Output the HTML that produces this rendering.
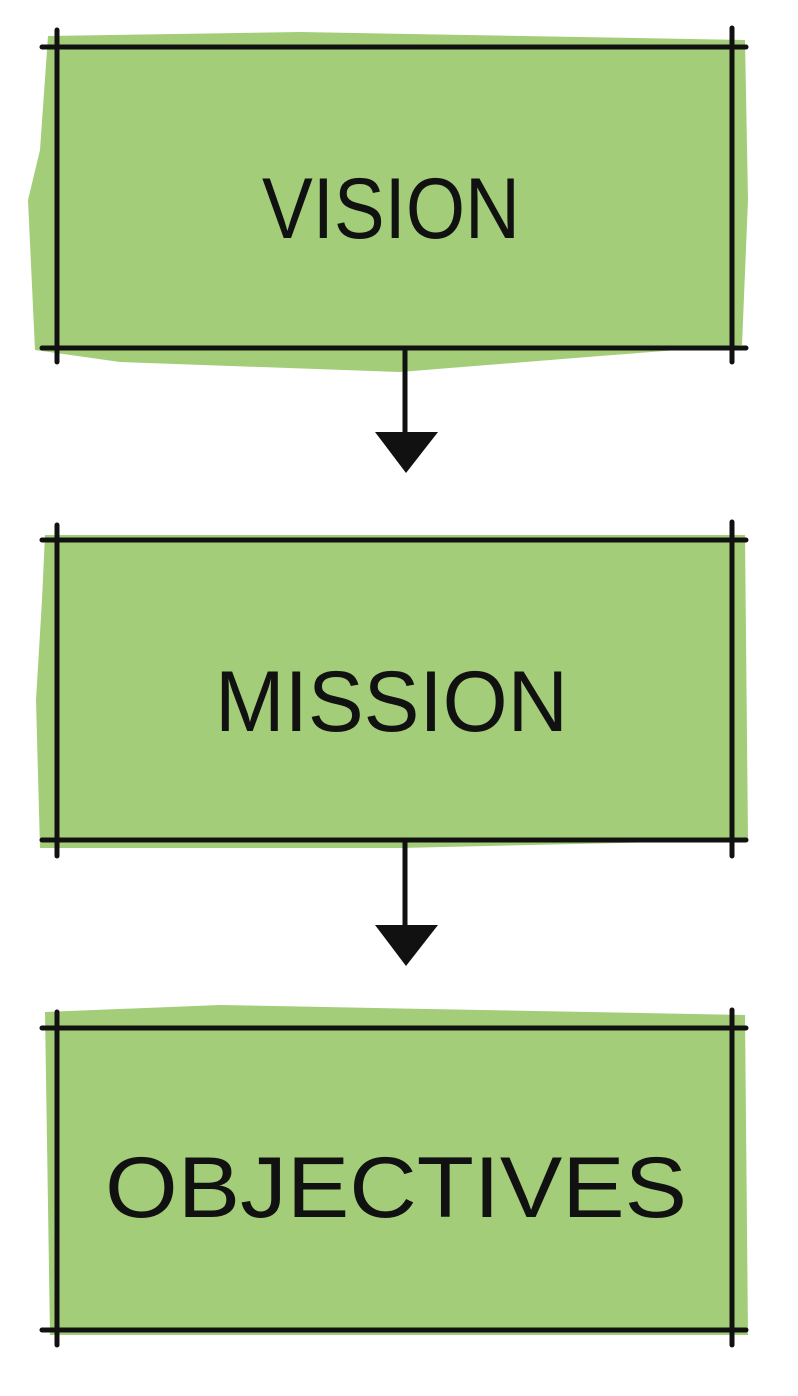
<!DOCTYPE html>
<html><head><meta charset="utf-8"><style>
html,body{margin:0;padding:0;background:#fff;width:798px;height:1396px;overflow:hidden}
text{font-family:"Liberation Sans",sans-serif;font-size:86px;fill:#111}
</style></head><body>
<svg width="798" height="1396" viewBox="0 0 798 1396" xmlns="http://www.w3.org/2000/svg">
<g fill="#a3cd78">
<path d="M48 36 L300 32 L745 40 L748 200 L742 345 L600 356 L400 372 L120 362 L35 350 L28 200 L40 150 Z"/>
<path d="M45 535 L745 535 L748 840 L400 848 L40 848 L36 700 L42 600 Z"/>
<path d="M45 1012 L220 1005 L745 1015 L748 1335 L50 1335 Z"/>
</g>
<g stroke="#111" stroke-width="5" stroke-linecap="round" fill="none">
<line x1="42" y1="47" x2="746" y2="47"/><line x1="42" y1="348" x2="746" y2="348"/>
<line x1="57" y1="30" x2="57" y2="362"/><line x1="732" y1="28" x2="732" y2="362"/>
<line x1="42" y1="540" x2="746" y2="540"/><line x1="42" y1="840" x2="746" y2="840"/>
<line x1="57" y1="525" x2="57" y2="856"/><line x1="732" y1="522" x2="732" y2="856"/>
<line x1="42" y1="1028" x2="746" y2="1028"/><line x1="42" y1="1330" x2="746" y2="1330"/>
<line x1="57" y1="1012" x2="57" y2="1345"/><line x1="732" y1="1010" x2="732" y2="1345"/>
<line x1="405" y1="348" x2="405" y2="440"/><line x1="405" y1="840" x2="405" y2="930"/>
</g>
<g fill="#111">
<path d="M375 432 L438 432 L406 473 Z"/>
<path d="M375 925 L438 925 L406 966 Z"/>
</g>
<text x="262" y="238" textLength="258" lengthAdjust="spacingAndGlyphs">VISION</text>
<text x="215" y="731" textLength="353" lengthAdjust="spacingAndGlyphs">MISSION</text>
<text x="105" y="1217" textLength="582" lengthAdjust="spacingAndGlyphs">OBJECTIVES</text>
</svg>
</body></html>
